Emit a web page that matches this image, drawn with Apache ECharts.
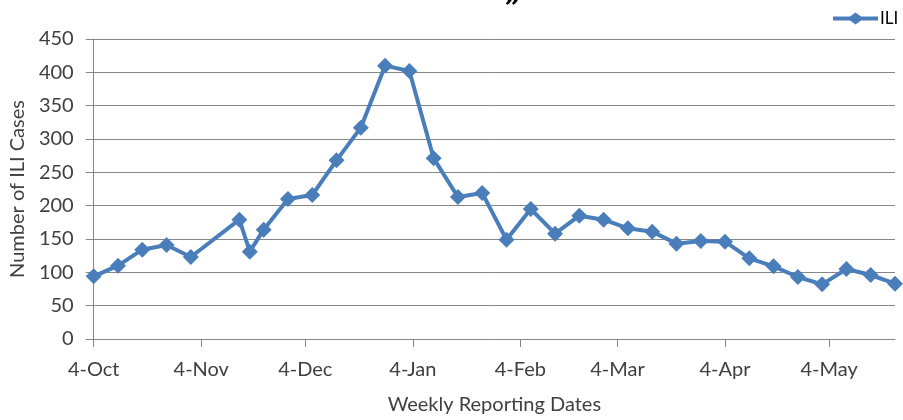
<!DOCTYPE html>
<html>
<head>
<meta charset="utf-8">
<title>ILI cases</title>
<script src="https://cdn.jsdelivr.net/npm/echarts@6/dist/echarts.min.js"></script>
<style>
    html, body { margin: 0; padding: 0; background: #fff; }
    #chart { width: 903px; height: 420px; }
</style>
</head>
<body>
<div id="chart"></div>
<script>
// weekly reporting dates
const reportDates = [
    '2014-10-04', '2014-10-11', '2014-10-18', '2014-10-25', '2014-11-01',
    '2014-11-15', '2014-11-18', '2014-11-22', '2014-11-29', '2014-12-06',
    '2014-12-13', '2014-12-20', '2014-12-27', '2015-01-03', '2015-01-10',
    '2015-01-17', '2015-01-24', '2015-01-31', '2015-02-07', '2015-02-14',
    '2015-02-21', '2015-02-28', '2015-03-07', '2015-03-14', '2015-03-21',
    '2015-03-28', '2015-04-04', '2015-04-11', '2015-04-18', '2015-04-25',
    '2015-05-02', '2015-05-09', '2015-05-16', '2015-05-23'
]
// number of ILI cases
const iliCases = [
    94, 110, 134, 141, 123,
    179, 131, 164, 210, 216,
    268, 317, 410, 402, 271,
    213, 219, 149, 195, 158,
    185, 179, 166, 161, 143,
    147, 146, 121, 109, 93,
    82, 105, 96, 83
]
// month ticks on the date axis
const tickDates = [
    '2014-10-04', '2014-11-04', '2014-12-04', '2015-01-04',
    '2015-02-04', '2015-03-04', '2015-04-04', '2015-05-04'
]
const axisStart = '2014-10-04'
const axisEnd = '2015-05-23'
const monthNames = ['Jan', 'Feb', 'Mar', 'Apr', 'May', 'Jun', 'Jul', 'Aug', 'Sep', 'Oct', 'Nov', 'Dec']

// dates as day numbers (UTC) so the axis is linear in days
function toDay(s) {
    const p = s.split('-')
    return Date.UTC(+p[0], +p[1] - 1, +p[2]) / 86400000
}

const textColor = '#404040'
const gridColor = '#868686'
const lineColor = '#4a7ebb'
const font = 'Lato, "Open Sans", sans-serif'

const chart = echarts.init(document.getElementById('chart'))
const tickValues = tickDates.map(toDay)

const option = {
    animation: false,
    textStyle: { fontFamily: font },
    grid: {
        left: 93,
        right: 8,
        top: 39,
        height: 300
    },
    legend: {
        data: ['ILI'],
        left: 828,
        top: 5,
        padding: 5,
        itemWidth: 45,
        itemHeight: 12,
        // line with diamond marker, like the Excel legend key
        icon: 'path://M0,4H17L22.5,0L28,4H45V8H28L22.5,12L17,8H0Z',
        itemStyle: { color: lineColor },
        textStyle: { fontSize: 17, color: '#000', fontFamily: font, padding: [0, 0, 0, -3] }
    },
    graphic: [{
        // bottom of the cut-off title
        type: 'text',
        left: 507,
        top: -34,
        style: {
            text: '\u201E',
            font: 'italic bold 40px ' + font,
            fill: '#000'
        }
    }],
    xAxis: {
        type: 'value',
        min: toDay(axisStart),
        max: toDay(axisEnd),
        name: 'Weekly Reporting Dates',
        nameLocation: 'middle',
        nameGap: 56,
        nameTextStyle: { fontSize: 20, color: textColor, fontFamily: font },
        axisLine: { show: true, lineStyle: { color: gridColor, width: 1 } },
        axisTick: {
            show: true,
            length: 8,
            lineStyle: { color: gridColor },
            customValues: tickValues
        },
        axisLabel: {
            fontSize: 20,
            color: textColor,
            margin: 21,
            customValues: tickValues,
            formatter: function (value) {
                const d = new Date(value * 86400000)
                return d.getUTCDate() + '-' + monthNames[d.getUTCMonth()]
            }
        },
        splitLine: { show: false }
    },
    yAxis: {
        type: 'value',
        min: 0,
        max: 450,
        interval: 50,
        name: 'Number of ILI Cases',
        nameLocation: 'middle',
        nameGap: 63,
        nameTextStyle: { fontSize: 20, color: textColor, fontFamily: font },
        axisLine: { show: true, lineStyle: { color: gridColor, width: 1 } },
        axisTick: { show: true, length: 8, lineStyle: { color: gridColor } },
        axisLabel: { fontSize: 20, color: textColor, margin: 20 },
        splitLine: { show: true, lineStyle: { color: gridColor, width: 1 } }
    },
    series: [{
        name: 'ILI',
        type: 'line',
        data: reportDates.map((d, i) => [toDay(d), iliCases[i]]),
        symbol: 'diamond',
        symbolSize: 16,
        showAllSymbol: true,
        lineStyle: { color: lineColor, width: 4 },
        itemStyle: { color: lineColor }
    }]
}

chart.setOption(option)
</script>
</body>
</html>
